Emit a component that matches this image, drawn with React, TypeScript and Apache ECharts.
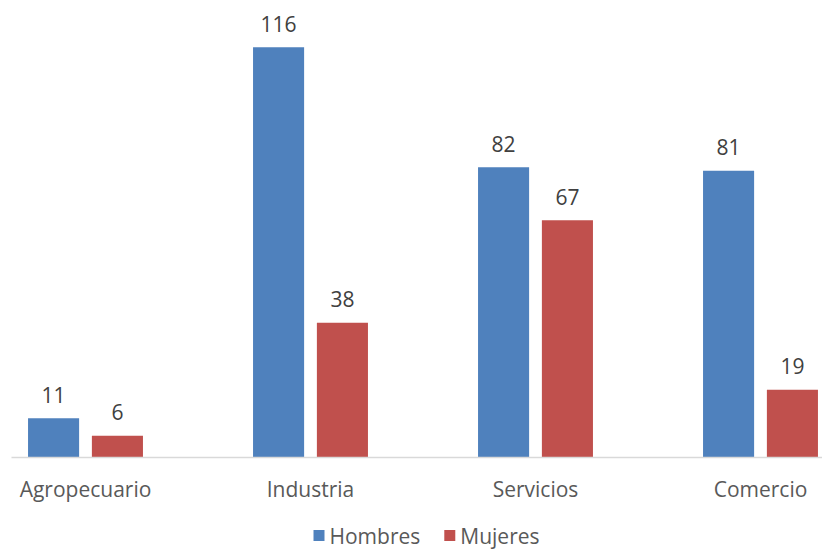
import React, { useEffect, useRef } from "react";
import * as echarts from "echarts";

const categories = ["Agropecuario", "Industria", "Servicios", "Comercio"];
const hombres = [11, 116, 82, 81];
const mujeres = [6, 38, 67, 19];
const seriesNames = ["Hombres", "Mujeres"];

const SHIFT = 27.5;

export default function App() {
  const ref = useRef<HTMLDivElement>(null);
  useEffect(() => {
    document.body.style.margin = "0";
    document.body.style.overflow = "hidden";
    const chart = echarts.init(ref.current!, null, { renderer: "svg" });
    const font = "'Open Sans', 'Liberation Sans', sans-serif";
    chart.setOption({
      animation: false,
      textStyle: { fontFamily: font },
      grid: { left: 0, width: 900, top: 33, height: 424, containLabel: false },
      legend: {
        data: seriesNames,
        left: 313 + SHIFT,
        top: 525,
        padding: 0,
        itemWidth: 11,
        itemHeight: 11,
        itemGap: 24,
        icon: "rect",
        textStyle: { fontSize: 21, lineHeight: 21, color: "#595959", fontFamily: font },
      },
      xAxis: {
        type: "category",
        data: categories,
        axisLine: { show: false },
        axisTick: { show: false },
        axisLabel: { fontSize: 21, color: "#595959", margin: 21, fontFamily: font },
      },
      yAxis: {
        type: "value",
        min: 0,
        max: 120,
        show: false,
        splitLine: { show: false },
      },
      graphic: [
        {
          type: "line",
          shape: { x1: 11 + SHIFT, y1: 457.5, x2: 822 + SHIFT, y2: 457.5 },
          style: { stroke: "#d9d9d9", lineWidth: 1.5 },
          z: 10,
        },
      ],
      series: [
        {
          name: seriesNames[0],
          type: "bar",
          data: hombres,
          barWidth: "22.7%",
          barGap: "25%",
          itemStyle: { color: "#4F81BD" },
          label: { show: true, position: "top", distance: 13, fontSize: 21, color: "#404040", fontFamily: font },
        },
        {
          name: seriesNames[1],
          type: "bar",
          data: mujeres,
          barWidth: "22.7%",
          barGap: "25%",
          itemStyle: { color: "#C0504D" },
          label: { show: true, position: "top", distance: 13, fontSize: 21, color: "#404040", fontFamily: font },
        },
      ],
    });
    return () => chart.dispose();
  }, []);
  return (
    <div style={{ width: 822, height: 552, overflow: "hidden", position: "relative" }}>
      <div ref={ref} style={{ position: "absolute", left: -SHIFT, top: 0, width: 900, height: 552 }} />
    </div>
  );
}
